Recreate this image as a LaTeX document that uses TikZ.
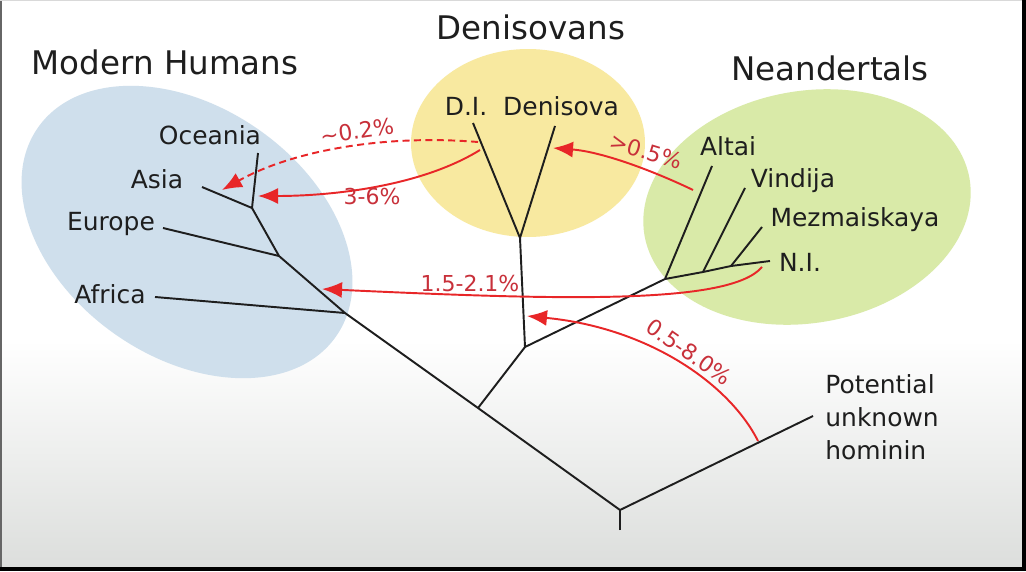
\documentclass[tikz,border=0pt]{standalone}
\usepackage{fontspec}
\setmainfont{DejaVu Sans}
\usetikzlibrary{arrows.meta}

\definecolor{humblue}{RGB}{207,223,236}
\definecolor{denyellow}{RGB}{248,233,160}
\definecolor{neagreen}{RGB}{217,234,168}
\definecolor{flowred}{RGB}{232,38,40}
\definecolor{pctred}{RGB}{200,48,58}
\definecolor{inkblack}{RGB}{30,30,30}

\begin{document}
\begin{tikzpicture}[x=0.02cm, y=-0.02cm,
  branch/.style={draw=inkblack, line width=1.1pt},
  flow/.style={draw=flowred, line width=1.1pt, -{Latex[length=0.4cm, width=0.32cm]}},
  group/.style={font=\fontsize{18.5}{20}\selectfont, text=inkblack, inner sep=0pt},
  leaf/.style={font=\fontsize{14.2}{18.7}\selectfont, text=inkblack, inner sep=0pt},
  pct/.style={font=\fontsize{12.5}{14}\selectfont, text=pctred, inner sep=0pt}]

\useasboundingbox (0,0) rectangle (1026,571);
\fill[white] (0,0) rectangle (1026,571);
\shade[top color=white, bottom color={rgb,255:red,220;green,222;blue,220}] (0,340) rectangle (1026,567);
\fill[black] (1022,0) rectangle (1026,571);
\fill[black] (0,567) rectangle (1026,571);
\fill[black!60] (0,0) rectangle (2,567);
\fill[black!15] (0,0) rectangle (1022,1.5);

\fill[humblue, rotate around={-35:(187,232)}] (187,232) ellipse [x radius=3.64cm, y radius=2.5cm];
\fill[denyellow] (528,143) ellipse [x radius=2.34cm, y radius=1.88cm];
\fill[neagreen, rotate around={10:(807,207)}] (807,207) ellipse [x radius=3.3cm, y radius=2.32cm];

\node[group] (modern) at (165,62) {Modern Humans};
\node[group] (deni) at (531,27) {Denisovans};
\node[group] (neand) at (830,68) {Neandertals};

\node[leaf] (oceania) at (210,135) {Oceania};
\node[leaf] (asia) at (157,179) {Asia};
\node[leaf] (europe) at (111,224) {Europe};
\node[leaf] (africa) at (110,294) {Africa};
\node[leaf] (di) at (466,106) {D.I.};
\node[leaf] (denisova) at (561,106) {Denisova};
\node[leaf] (altai) at (728,146) {Altai};
\node[leaf] (vindija) at (793,181) {Vindija};
\node[leaf] (mezmai) at (855,220) {Mezmaiskaya};
\node[leaf] (ni) at (800,262) {N.I.};
\node[leaf, anchor=north west, align=left] (unknown) at (825,374) {Potential\\unknown\\hominin};

\coordinate (root) at (620,530);
\coordinate (base) at (620,510);
\coordinate (split) at (478,408);
\coordinate (archaic) at (525,347);
\coordinate (dnode) at (520,238);
\coordinate (nnode) at (665,279);
\coordinate (afrnode) at (345,313);
\coordinate (eurnode) at (279,256);
\coordinate (asnode) at (252,208);
\coordinate (vinnode) at (703,272);
\coordinate (meznode) at (731,266);

\coordinate (oceaniaend) at (258,153);
\coordinate (asiaend) at (202,187);
\coordinate (europeend) at (163,228);
\coordinate (africaend) at (155,297);
\coordinate (diend) at (473,123);
\coordinate (denend) at (555,126);
\coordinate (altaiend) at (712,166);
\coordinate (vinend) at (745,188);
\coordinate (mezend) at (762,227);
\coordinate (niend) at (770,261);
\coordinate (unkend) at (813,416);

\draw[branch] (root) -- (base);
\draw[branch] (base) -- (split) -- (afrnode) -- (eurnode) -- (asnode) -- (oceaniaend);
\draw[branch] (asnode) -- (asiaend);
\draw[branch] (eurnode) -- (europeend);
\draw[branch] (afrnode) -- (africaend);
\draw[branch] (split) -- (archaic) -- (dnode) -- (diend);
\draw[branch] (dnode) -- (denend);
\draw[branch] (archaic) -- (nnode) -- (altaiend);
\draw[branch] (nnode) -- (vinnode) -- (meznode) -- (niend);
\draw[branch] (vinnode) -- (vinend);
\draw[branch] (meznode) -- (mezend);
\draw[branch] (base) -- (unkend);

\coordinate (dashfrom) at (478,142);
\coordinate (dashto) at (222,190);
\coordinate (difrom) at (480,150);
\coordinate (dito) at (258,196);
\coordinate (altfrom) at (693,190);
\coordinate (altto) at (553,148);
\coordinate (nifrom) at (762,267);
\coordinate (nito) at (322,289);
\coordinate (unkfrom) at (758,441);
\coordinate (unkto) at (527,316);

\draw[flow, dash pattern=on 4pt off 2.5pt] (dashfrom) .. controls (380,134) and (290,152) .. (dashto);
\draw[flow] (difrom) .. controls (420,187) and (330,196) .. (dito);
\draw[flow] (altfrom) .. controls (660,174) and (605,152) .. (altto);
\draw[flow] (nifrom) .. controls (730,305) and (560,300) .. (nito);
\draw[flow] (unkfrom) .. controls (730,385) and (650,328) .. (unkto);

\node[pct, rotate=8] (p1) at (357,131) {\textasciitilde 0.2\%};
\node[pct] (p2) at (372,197) {3-6\%};
\node[pct, rotate=-17] (p3) at (646,151) {>0.5\%};
\node[pct] (p4) at (470,284) {1.5-2.1\%};
\node[pct, rotate=-35] (p5) at (689,352) {0.5-8.0\%};

\end{tikzpicture}
\end{document}
